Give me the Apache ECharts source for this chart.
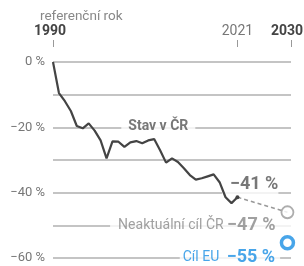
<!DOCTYPE html>
<html>
<head>
<meta charset="utf-8">
<script src="https://cdn.jsdelivr.net/npm/echarts@6/dist/echarts.min.js"></script>
<style>
  html, body { margin: 0; padding: 0; background: #fff; }
  #chart { width: 304px; height: 266px; }
</style>
</head>
<body>
<div id="chart"></div>
<script>
// emise vs. referenční rok 1990 (%)
const years = [1990, 1991, 1992, 1993, 1994, 1995, 1996, 1997, 1998, 1999, 2000,
  2001, 2002, 2003, 2004, 2005, 2006, 2007, 2008, 2009, 2010,
  2011, 2012, 2013, 2014, 2015, 2016, 2017, 2018, 2019, 2020, 2021]
const emissions = [0, -9.5, -12, -15, -19.6, -20.3, -18.8, -21, -24, -29.5, -24.3,
  -24.4, -26, -24.6, -24.2, -24.9, -24, -23.6, -27, -30.8, -29.5,
  -30.6, -32.5, -34.6, -36, -35.6, -35, -34.4, -36.8, -41.4, -43.2, -41.4]

const yearTicks = [1990, 2021, 2030]
const yTickValues = [0, -20, -40, -60]
const yTickLabels = ['0 %', '−20 %', '−40 %', '−60 %']

const targetX = 2029.4
const targetCZ = -46
const targetEU = -55.3

const FONT = 'Roboto'
const BLUE = '#1a8fe3'

const chart = echarts.init(document.getElementById('chart'), null, { renderer: 'canvas' })

const last = emissions.length - 1
const lineData = years.map((y, i) => i === last
  ? { value: [y, emissions[i]], symbol: 'circle', symbolSize: 4 }
  : [y, emissions[i]])

// popisky s bílým podkladem, který přeruší mřížku
const notes = [
  {
    value: [2007.7, -19.6],
    label: { formatter: 'Stav v ČR', align: 'center', padding: [3, 7, 3, 7],
      fontSize: 14, fontWeight: 'bold', color: '#555' },
  },
  {
    value: [2018.4, -37.35],
    label: { formatter: '−41 %', align: 'left', padding: [2, 0, 10, 8],
      fontSize: 18, lineHeight: 20, fontWeight: 'bold', color: '#555' },
  },
  {
    value: [1999.6, -50.2],
    label: { formatter: '{a|Neaktuální cíl ČR} {b|−47 %}', align: 'left', padding: [2, 20, 2, 8],
      fontSize: 14, color: '#888',
      rich: { a: { fontSize: 14, color: '#888', fontFamily: FONT },
              b: { fontSize: 18, fontWeight: 'bold', color: '#888', fontFamily: FONT } } },
  },
  {
    value: [2011.3, -59.7],
    label: { formatter: '{a|Cíl EU} {b|−55 %}', align: 'left', padding: [2, 5, 2, 3],
      fontSize: 14, color: BLUE,
      rich: { a: { fontSize: 14, color: BLUE, fontFamily: FONT },
              b: { fontSize: 18, fontWeight: 'bold', color: BLUE, fontFamily: FONT, padding: [0, 0, 0, 4] } } },
  },
]

chart.setOption({
  animation: false,
  backgroundColor: '#fff',
  textStyle: { fontFamily: FONT },
  title: {
    text: 'referenční rok', left: 35, top: 5,
    textStyle: { fontSize: 13.5, fontWeight: 'normal', color: '#888', fontFamily: FONT },
  },
  grid: { left: 53, right: 13, top: 62, bottom: 8, outerBoundsMode: 'none' },
  xAxis: {
    type: 'value', min: 1990, max: 2030, position: 'top', offset: 15,
    axisLine: { show: true, onZero: false, lineStyle: { color: 'rgba(0,0,0,0)' } },
    axisTick: { show: true, customValues: yearTicks, length: 7, lineStyle: { color: '#999', width: 1 } },
    axisLabel: {
      customValues: yearTicks, margin: 9,
      formatter: v => v === 1990 ? '{b|1990}' : v === 2030 ? '{e|2030}' : '{n|' + v + '}',
      rich: {
        b: { fontSize: 14, fontWeight: 'bold', color: '#444', fontFamily: FONT, padding: [0, 6, 0, 0] },
        e: { fontSize: 14, fontWeight: 'bold', color: '#444', fontFamily: FONT, padding: [0, 8, 0, 0] },
        n: { fontSize: 14, color: '#777', fontFamily: FONT },
      },
    },
    splitLine: { show: false },
  },
  yAxis: {
    type: 'value', min: -60, max: 0, interval: 10,
    axisLine: { show: false }, axisTick: { show: false },
    axisLabel: {
      margin: 8, fontSize: 13, color: '#777', fontFamily: FONT,
      formatter: v => { const i = yTickValues.indexOf(v); return i < 0 ? '' : yTickLabels[i] },
    },
    splitLine: { lineStyle: { color: '#b0b0b0', width: 1.5 } },
  },
  series: [
    {
      type: 'scatter', z: 2, silent: true, symbolSize: 0,
      label: { show: true, position: 'inside', verticalAlign: 'middle', backgroundColor: '#fff', fontFamily: FONT },
      data: notes,
    },
    {
      type: 'line', z: 4, silent: true, symbol: 'none',
      lineStyle: { color: '#999', width: 1.5, type: [4, 3] },
      data: [[years[last], emissions[last]], [targetX, targetCZ]],
    },
    {
      type: 'line', z: 5, silent: true, symbol: 'none', showSymbol: true,
      itemStyle: { color: '#444' },
      lineStyle: { color: '#444', width: 2.2 },
      data: lineData,
    },
    {
      type: 'scatter', z: 6, silent: true, symbolSize: 12,
      itemStyle: { color: '#fff', borderColor: '#999', borderWidth: 1.8 },
      data: [[targetX, targetCZ]],
    },
    {
      type: 'scatter', z: 6, silent: true, symbolSize: 12,
      itemStyle: { color: '#fff', borderColor: BLUE, borderWidth: 3.5 },
      data: [[targetX, targetEU]],
    },
  ],
})
</script>
</body>
</html>
